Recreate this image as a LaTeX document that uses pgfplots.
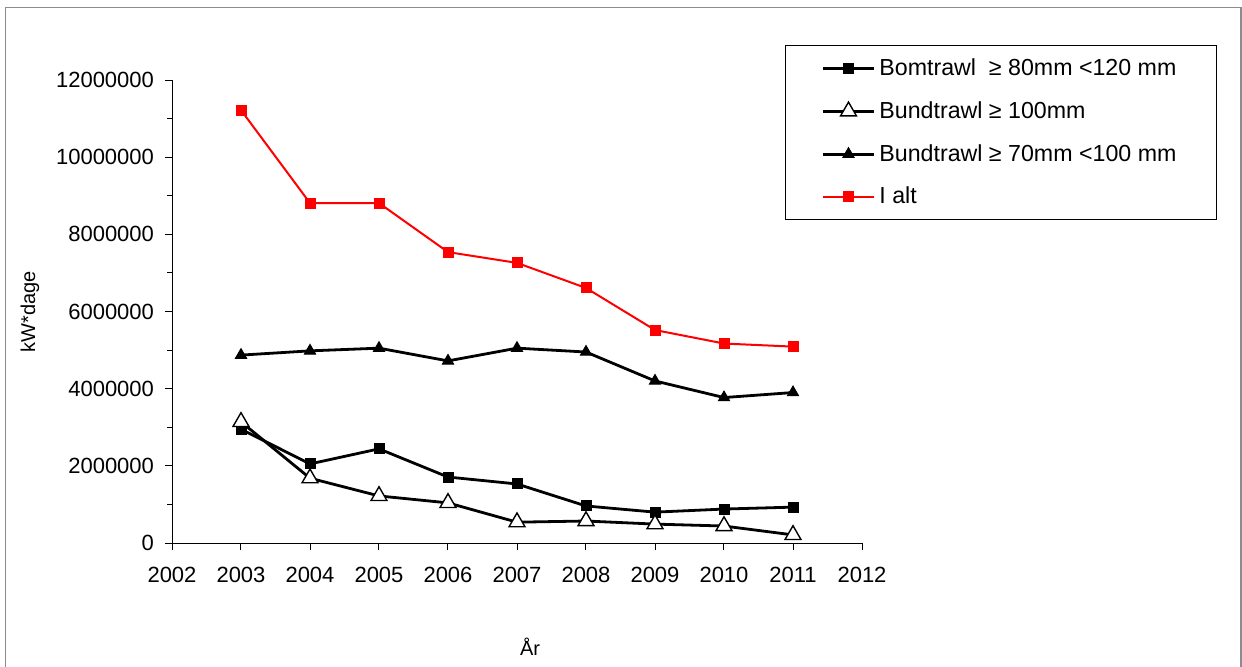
\documentclass[border=0pt]{standalone}
\usepackage{fontspec}
\setmainfont{Liberation Sans}
\usepackage{pgfplots}
\pgfplotsset{compat=1.18}
\begin{document}
\begin{tikzpicture}
\useasboundingbox (0,0) rectangle (621pt,333pt);
\fill[white] (0,0) rectangle (621pt,333pt);
\draw[color=black!45, line width=0.6pt] (2.75pt,-10pt) -- (2.75pt,329.25pt) -- (620.5pt,329.25pt) -- (620.5pt,-10pt);
\begin{axis}[
  at={(86pt,61.5pt)}, anchor=south west,
  scale only axis, width=345pt, height=231.5pt,
  xmin=2002, xmax=2012, ymin=0, ymax=12000000,
  axis lines=left, axis line style={line width=0.5pt,-},
  xtick={2002,2003,...,2012}, ytick={0,2000000,...,12000000},
  minor y tick num=1,
  tick align=outside, major tick length=3.5pt, minor tick length=2.5pt,
  tick style={black, line width=0.5pt},
  scaled y ticks=false, scaled x ticks=false,
  /pgf/number format/1000 sep={},
  /pgf/number format/fixed,
  /pgf/number format/assume math mode=true,
  ticklabel style={font=\fontsize{11}{13}\selectfont},
  xticklabel style={yshift=-5pt},
  yticklabel style={xshift=-2pt},
  label style={font=\fontsize{10}{12}\selectfont},
  xlabel={År}, ylabel={kW*dage},
  xlabel style={at={(axis description cs:0.519,-0.2246)}, anchor=center},
  ylabel style={at={(axis description cs:-0.206,0.5)}, anchor=center},
  legend cell align=left,
  legend style={at={(0.8884,1.0756)}, anchor=north west, draw=black, semithick,
    font=\fontsize{11.6}{13.5}\selectfont, row sep=7.5pt, inner xsep=18pt, inner ysep=4.5pt},
  legend image code/.code={\draw[mark repeat=2,mark phase=2,#1] plot coordinates {(0pt,0pt) (12.75pt,0pt) (25.5pt,0pt)};},
]
\addplot[black, line width=1.4pt, mark=square*, mark size=2.5pt, mark options={solid, fill=black, line width=0.5pt}]
  coordinates {(2003,2950000) (2004,2050000) (2005,2440000) (2006,1710000) (2007,1530000) (2008,960000) (2009,800000) (2010,880000) (2011,930000)};
\addlegendentry{Bomtrawl\ \ ≥ 80mm <120 mm}
\addplot[black, line width=1.4pt, mark=triangle*, mark size=4.6pt, mark options={solid, fill=white, draw=black, line width=0.7pt}]
  coordinates {(2003,3140000) (2004,1680000) (2005,1220000) (2006,1040000) (2007,540000) (2008,570000) (2009,490000) (2010,440000) (2011,210000)};
\addlegendentry{Bundtrawl ≥ 100mm}
\addplot[black, line width=1.4pt, mark=triangle*, mark size=3.2pt, mark options={solid, fill=black, line width=0.5pt}]
  coordinates {(2003,4870000) (2004,4980000) (2005,5050000) (2006,4720000) (2007,5050000) (2008,4950000) (2009,4200000) (2010,3770000) (2011,3900000)};
\addlegendentry{Bundtrawl ≥ 70mm <100 mm}
\addplot[red, line width=1pt, mark=square*, mark size=2.5pt, mark options={solid, fill=red, line width=0.5pt}]
  coordinates {(2003,11220000) (2004,8810000) (2005,8810000) (2006,7540000) (2007,7260000) (2008,6610000) (2009,5520000) (2010,5170000) (2011,5090000)};
\addlegendentry{I alt}
\end{axis}
\end{tikzpicture}
\end{document}
